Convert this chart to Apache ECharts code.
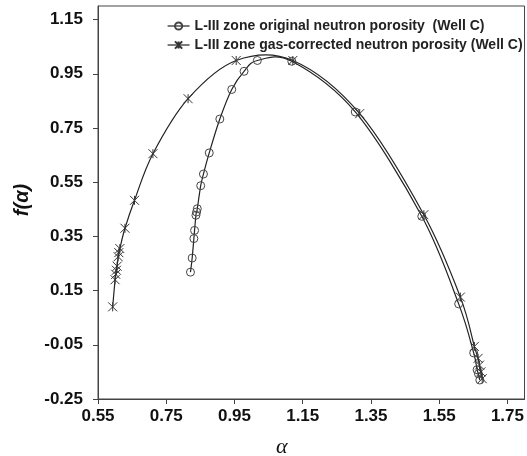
<!DOCTYPE html>
<html><head><meta charset="utf-8">
<script src="https://cdn.jsdelivr.net/npm/echarts@6/dist/echarts.min.js"></script>
<style>html,body{margin:0;padding:0;background:#fff}#c{width:527px;height:456px}</style>
</head><body><div id="c"></div>
<script>
var seriesNames = ['L-III zone original neutron porosity  (Well C)', 'L-III zone gas-corrected neutron porosity (Well C)'];
var originalAlpha = [0.821,0.826,0.831,0.833,0.837,0.839,0.841,0.851,0.859,0.876,0.907,0.942,0.978,1.017,1.118,1.304,1.499,1.607,1.651,1.661,1.665,1.669];
var originalF     = [0.218,0.270,0.342,0.372,0.428,0.440,0.452,0.537,0.580,0.658,0.783,0.892,0.959,0.999,0.996,0.809,0.424,0.101,-0.080,-0.142,-0.157,-0.180];
var gasAlpha = [0.593,0.600,0.602,0.604,0.606,0.609,0.611,0.614,0.629,0.657,0.711,0.814,0.955,1.121,1.317,1.505,1.612,1.653,1.664,1.668,1.672,1.676];
var gasF     = [0.090,0.190,0.210,0.225,0.240,0.275,0.290,0.305,0.380,0.483,0.655,0.858,0.999,0.999,0.803,0.430,0.126,-0.056,-0.100,-0.125,-0.150,-0.175];
var xTicks = [0.55,0.75,0.95,1.15,1.35,1.55,1.75];
var yTicks = [-0.25,-0.05,0.15,0.35,0.55,0.75,0.95,1.15];

function pairs(a,b){return a.map(function(v,i){return [v,b[i]];});}
// Catmull-Rom spline through the data points, in pixel space via the axes
function splineItem(xs, ys){
  return function(params, api){
    var p = xs.map(function(x,i){return api.coord([x, ys[i]]);});
    var n = p.length, d = 'M' + p[0][0] + ',' + p[0][1];
    for (var i = 0; i < n - 1; i++) {
      var p0 = p[Math.max(i-1,0)], p1 = p[i], p2 = p[i+1], p3 = p[Math.min(i+2,n-1)];
      var c1x = p1[0] + (p2[0]-p0[0])/6, c1y = p1[1] + (p2[1]-p0[1])/6;
      var c2x = p2[0] - (p3[0]-p1[0])/6, c2y = p2[1] - (p3[1]-p1[1])/6;
      d += 'C' + c1x + ',' + c1y + ' ' + c2x + ',' + c2y + ' ' + p2[0] + ',' + p2[1];
    }
    return {type:'path', shape:{pathData:d}, style:{fill:null, stroke:'#222', lineWidth:1.2}, silent:true};
  };
}
var star = 'path://M0,0L10,10M10,0L0,10M5,0L5,10';
var chart = echarts.init(document.getElementById('c'));
var lab = {fontFamily:'Liberation Sans, Arial', fontWeight:'bold', fontSize:17, color:'#111'};
chart.setOption({
  animation:false,
  grid:{left:98,right:2,top:6,bottom:57,show:true,borderColor:'#444',borderWidth:1},
  xAxis:{type:'value',min:0.55,max:1.8,interval:0.2,
    axisLine:{onZero:false,lineStyle:{color:'#444'}},
    axisTick:{show:true,length:5,lineStyle:{color:'#444'}},
    splitLine:{show:false},
    axisLabel:Object.assign({margin:9,showMaxLabel:false,formatter:function(v){return xTicks.some(function(t){return Math.abs(t-v)<1e-6;})?v.toFixed(2):'';}},lab)},
  yAxis:{type:'value',min:-0.25,max:1.2,interval:0.2,
    axisLine:{show:true,onZero:false,lineStyle:{color:'#444'}},
    axisTick:{show:true,length:5,lineStyle:{color:'#444'}},
    splitLine:{show:false},
    axisLabel:Object.assign({margin:15,showMaxLabel:false,formatter:function(v){return yTicks.some(function(t){return Math.abs(t-v)<1e-6;})?v.toFixed(2):'';}},lab)},
  legend:{orient:'vertical',left:162,top:14,itemGap:5,itemWidth:22,itemHeight:9,itemTextGap:4,
    lineStyle:{width:1.2,color:'#222',opacity:1},
    textStyle:{fontFamily:'Liberation Sans, Arial',fontWeight:'bold',fontSize:14,color:'#222'},
    data:seriesNames},
  series:[
    {type:'custom',renderItem:splineItem(originalAlpha,originalF),data:[0],silent:true,z:1},
    {type:'custom',renderItem:splineItem(gasAlpha,gasF),data:[0],silent:true,z:1},
    {name:seriesNames[0],type:'line',data:pairs(originalAlpha,originalF),z:2,
     symbol:'circle',symbolSize:8,
     itemStyle:{color:'rgba(255,255,255,0)',borderColor:'#444',borderWidth:1},
     lineStyle:{color:'#222',width:0,opacity:0}},
    {name:seriesNames[1],type:'line',data:pairs(gasAlpha,gasF),z:2,
     symbol:star,symbolSize:9,
     itemStyle:{color:'rgba(255,255,255,0)',borderColor:'#333',borderWidth:1},
     lineStyle:{color:'#222',width:0,opacity:0}}
  ],
  graphic:[
    {type:'text',left:276,top:436,style:{text:'α',fontFamily:'Liberation Serif, Times New Roman',fontStyle:'italic',fontSize:22,fill:'#111'}},
    {type:'text',x:22,y:200,rotation:Math.PI/2,style:{text:'f(α)',fontFamily:'Liberation Sans, Arial',fontStyle:'italic',fontWeight:'bold',fontSize:20,fill:'#111',align:'center',verticalAlign:'middle'}}
  ]
});
</script></body></html>
